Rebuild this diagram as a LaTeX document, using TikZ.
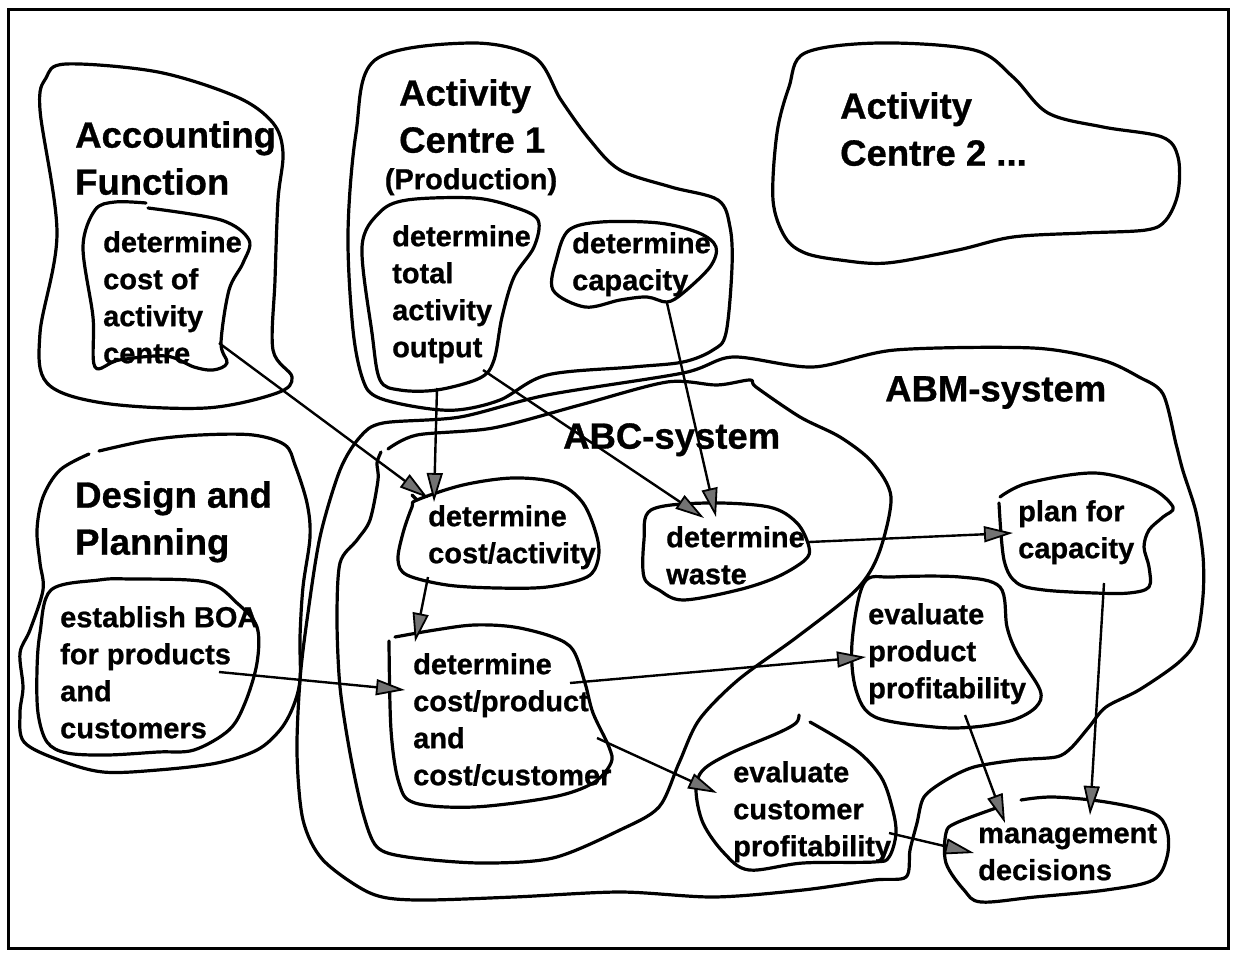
\documentclass[tikz,border=0pt]{standalone}
\usepackage{fontspec}
\setmainfont{Liberation Sans}[BoldFeatures={FakeBold=0.8}]
\usetikzlibrary{arrows.meta}
\begin{document}
\begin{tikzpicture}[x=1pt,y=-1pt,
  blob/.style={line width=3.2pt, line join=round, line cap=round},
  arr/.style={line width=2.4pt, -{Triangle[length=29pt,width=16pt,fill=black!55,line width=1.8pt]}},
  title/.style={anchor=north west, inner sep=0pt, align=left, font=\bfseries\fontsize{36.5}{47}\selectfont},
  lbl/.style={anchor=north west, inner sep=0pt, align=left, font=\bfseries\fontsize{29}{37}\selectfont}]
\useasboundingbox (0,0) rectangle (1236,955);
\draw[line width=3pt] (8,10) rectangle (1228,948);

% Accounting function
\draw[blob] plot[smooth cycle, tension=0.55] coordinates {(46,78) (66,64) (158,72) (237,97) (273,123) (283,153) (278,200) (275,280) (273,350) (292,377) (277,393) (206,408) (103,403) (47,383) (40,333) (57,233) (40,110)};
\draw[blob] plot[smooth, tension=0.55] coordinates {(148,208) (221,220) (249,240) (243,263) (229,290) (221,343) (227,363) (213,370) (194,367) (166,356) (119,360) (95,367) (93,317) (83,247) (95,210) (115,202) (146,203)};

% Activity centre 1
\draw[blob] plot[smooth cycle, tension=0.55] coordinates {(375,60) (470,43) (534,57) (561,100) (590,140) (620,170) (671,187) (718,200) (730,227) (732,267) (726,333) (713,350) (683,362) (633,367) (547,375) (500,400) (457,410) (417,407) (377,397) (363,380) (353,330) (348,233) (356,133)};
\draw[blob] plot[smooth cycle, tension=0.55] coordinates {(379,213) (407,200) (474,198) (514,207) (538,220) (534,247) (514,277) (502,317) (494,360) (480,378) (437,390) (400,390) (380,380) (372,333) (362,247)};
\draw[blob] plot[smooth cycle, tension=0.55] coordinates {(569,230) (601,222) (659,223) (699,233) (716,247) (710,267) (683,293) (667,302) (647,297) (620,300) (585,307) (553,290) (557,257)};

% Activity centre 2
\draw[blob] plot[smooth cycle, tension=0.55] coordinates {(805,53) (879,43) (974,50) (1013,77) (1048,113) (1103,127) (1162,137) (1178,157) (1178,193) (1166,220) (1146,230) (1084,233) (1013,237) (958,250) (887,263) (840,260) (805,253) (785,237) (773,200) (777,133) (789,87)};

% Design and planning
\draw[blob] plot[smooth, tension=0.55] coordinates {(99,451) (150,440) (200,435) (253,435) (285,445) (295,465) (307,503) (310,537) (303,587) (300,637) (300,680) (293,707) (280,730) (257,750) (217,763) (158,770) (103,772) (59,760) (24,742) (20,713) (23,687) (20,653) (30,630) (43,590) (40,563) (37,530) (43,497) (60,470) (89,454)};
\draw[blob] plot[smooth cycle, tension=0.55] coordinates {(51,590) (99,580) (130,579) (206,582) (237,603) (257,627) (257,663) (245,703) (229,730) (194,750) (158,752) (107,755) (67,753) (47,742) (38,713) (37,670) (40,633)};

% ABM system
\draw[blob] plot[smooth cycle, tension=0.5] coordinates {(383,423) (460,417) (547,395) (683,373) (733,357) (813,367) (895,350) (1033,348) (1102,360) (1139,377) (1163,394) (1176,444) (1183,471) (1196,512) (1203,556) (1203,596) (1196,640) (1178,663) (1139,690) (1106,707) (1089,727) (1071,748) (1056,757) (1017,760) (974,767) (946,780) (924,797) (917,823) (910,850) (906,877) (874,880) (803,890) (714,897) (620,892) (514,897) (415,900) (370,893) (323,860) (303,820) (297,753) (300,680) (307,620) (320,537) (340,470) (360,437)};

% ABC system
\draw[blob] plot[smooth, tension=0.5] coordinates {(388,449) (417,435) (493,428) (580,405) (667,382) (717,385) (750,380) (756,387) (800,417) (840,437) (872,462) (891,497) (879,553) (856,590) (797,637) (738,680) (699,720) (679,763) (659,807) (620,830) (553,858) (480,863) (407,857) (377,847) (363,813) (350,753) (340,687) (337,620) (340,563) (357,540) (370,520) (378,480) (377,463) (381,452)};

% ABC processes
\draw[blob] (412,495) -- (417,500);
\draw[blob] plot[smooth cycle, tension=0.55] coordinates {(417,500) (463,485) (513,478) (557,483) (583,503) (597,537) (598,560) (587,577) (547,587) (497,588) (447,585) (407,575) (398,560) (403,533) (412,507)};
\draw[blob] plot[smooth, tension=0.55] coordinates {(395,637) (435,630) (474,625) (514,627) (553,637) (573,650) (585,683) (593,713) (609,747) (611,763) (593,783) (553,797) (474,807) (415,803) (399,783) (391,730) (389,641)};
\draw[blob] plot[smooth cycle, tension=0.55] coordinates {(651,510) (706,503) (769,507) (797,523) (809,547) (805,560) (777,577) (738,590) (683,600) (659,590) (644,577) (644,540)};

% ABM processes
\draw[blob] plot[smooth, tension=0.55] coordinates {(1000,497) (1028,483) (1095,473) (1149,487) (1173,507) (1163,517) (1149,530) (1144,547) (1149,567) (1149,587) (1129,593) (1095,593) (1044,590) (1017,583) (1004,560) (999,503)};
\draw[blob] plot[smooth cycle, tension=0.55] coordinates {(864,583) (893,577) (960,577) (1000,587) (1007,627) (1017,653) (1040,690) (1036,707) (1013,720) (974,727) (934,727) (875,717) (856,690) (852,643)};
\draw[blob] plot[smooth, tension=0.55] coordinates {(810,722) (856,750) (881,777) (892,807) (896,833) (889,857) (874,862) (803,863) (749,870) (724,853) (703,823) (696,790) (703,770) (731,753) (778,733) (796,723) (799,715)};
\draw[blob] plot[smooth, tension=0.55] coordinates {(1021,800) (1053,797) (1106,802) (1153,813) (1167,830) (1167,857) (1153,880) (1106,890) (1035,897) (981,902) (964,890) (946,863) (946,833) (956,823) (999,807)};

% titles
\node[title] (tAcc) at (75,121) {Accounting\\Function};
\node[title] (tAc1) at (399,79) {Activity\\Centre 1};
\node[lbl, anchor=north] (tProd) at (471,168) {(Production)};
\node[title] (tAc2) at (840,92) {Activity\\Centre 2 ...};
\node[title] (tDes) at (75,481) {Design and\\Planning};
\node[title] (tAbc) at (563,423) {ABC-system};
\node[title] (tAbm) at (885,376) {ABM-system};

% process labels
\node[lbl] (pCostAc) at (103,231) {determine\\cost of\\activity\\centre};
\node[lbl] (pOutput) at (392,225) {determine\\total\\activity\\output};
\node[lbl] (pCap) at (572,232) {determine\\capacity};
\node[lbl] (pCostAct) at (428,505) {determine\\cost/activity};
\node[lbl] (pWaste) at (666,526) {determine\\waste};
\node[lbl] (pPlan) at (1018,500) {plan for\\capacity};
\node[lbl] (pBoa) at (60,606) {establish BOA\\for products\\and\\customers};
\node[lbl] (pCostProd) at (413,653) {determine\\cost/product\\and\\cost/customer};
\node[lbl] (pEvProd) at (868,603) {evaluate\\product\\profitability};
\node[lbl] (pEvCust) at (733,761) {evaluate\\customer\\profitability};
\node[lbl] (pMgmt) at (978,824) {management\\decisions};

% connector ends
\coordinate (costOut) at (219,343);
\coordinate (costActInA) at (428,498);
\coordinate (outBottom) at (437,388);
\coordinate (costActInB) at (434,502);
\coordinate (outRight) at (483,370);
\coordinate (wasteInA) at (704,518);
\coordinate (capOut) at (667,303);
\coordinate (wasteInB) at (716,517);
\coordinate (costActOut) at (428,577);
\coordinate (costProdInA) at (415,642);
\coordinate (boaOut) at (219,672);
\coordinate (costProdInB) at (405,690);
\coordinate (wasteOut) at (809,542);
\coordinate (planIn) at (1013,533);
\coordinate (prodOut) at (570,683);
\coordinate (evProdIn) at (866,657);
\coordinate (custOut) at (597,738);
\coordinate (evCustIn) at (717,793);
\coordinate (evCustOut) at (889,833);
\coordinate (mgmtInA) at (974,853);
\coordinate (evProdOut) at (965,715);
\coordinate (mgmtInB) at (1005,823);
\coordinate (planOut) at (1104,583);
\coordinate (mgmtInC) at (1090,815);

\draw[arr] (costOut) -- (costActInA);
\draw[arr] (outBottom) -- (costActInB);
\draw[arr] (outRight) -- (wasteInA);
\draw[arr] (capOut) -- (wasteInB);
\draw[arr] (costActOut) -- (costProdInA);
\draw[arr] (boaOut) -- (costProdInB);
\draw[arr] (wasteOut) -- (planIn);
\draw[arr] (prodOut) -- (evProdIn);
\draw[arr] (custOut) -- (evCustIn);
\draw[arr] (evCustOut) -- (mgmtInA);
\draw[arr] (evProdOut) -- (mgmtInB);
\draw[arr] (planOut) -- (mgmtInC);
\end{tikzpicture}
\end{document}
